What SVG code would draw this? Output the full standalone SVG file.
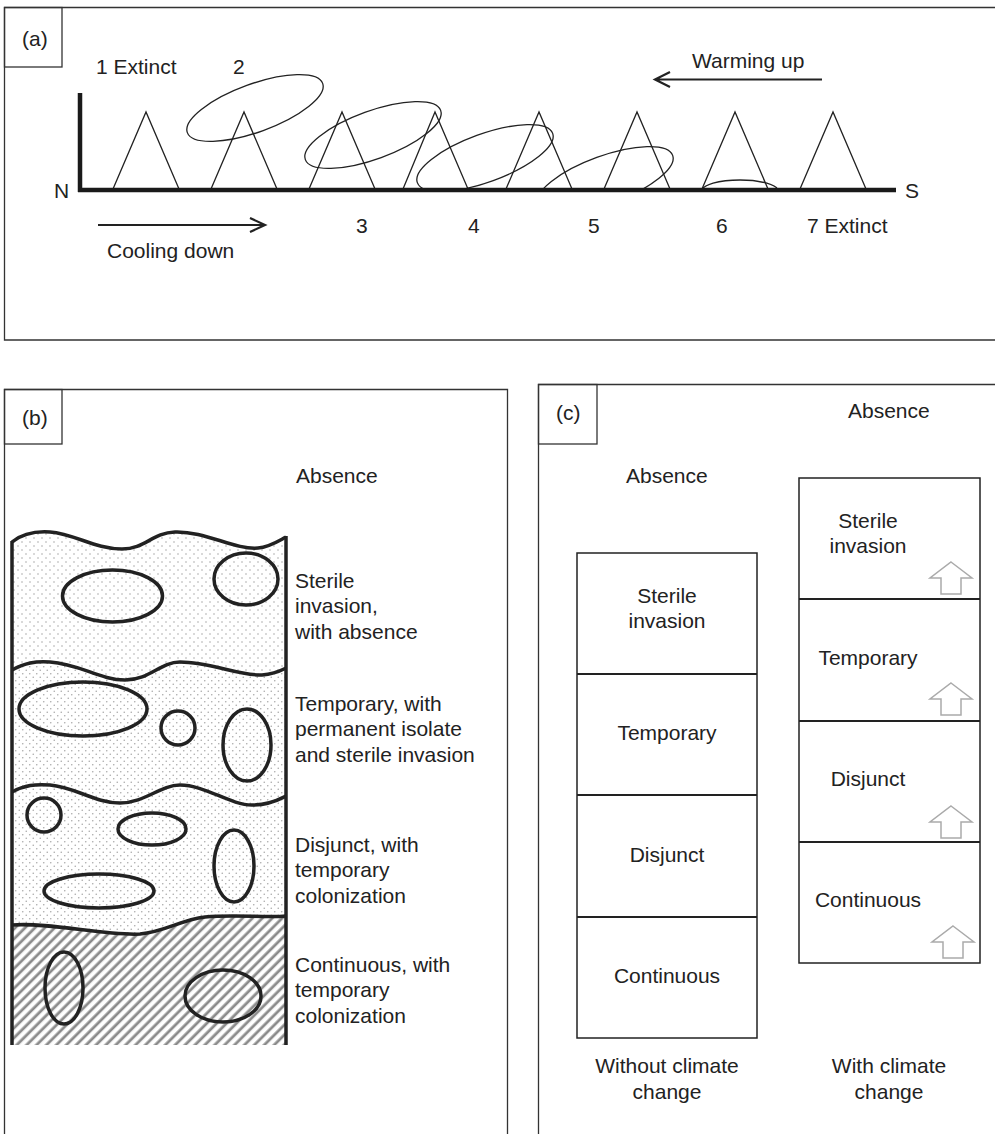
<svg xmlns="http://www.w3.org/2000/svg" width="995" height="1134" viewBox="0 0 995 1134">
<style>
text{font-family:"Liberation Sans",Arial,sans-serif;font-size:21px;fill:#222}
.frame{fill:none;stroke:#333;stroke-width:1.3}
.thin{fill:none;stroke:#222;stroke-width:1.3}
.axis{stroke:#1a1a1a;stroke-width:4.5;fill:none}
.arr{fill:none;stroke:#222;stroke-width:2.2}
.wave{fill:none;stroke:#222;stroke-width:3.5}
.bl{stroke:#222;stroke-width:3.5;fill:none}
.box{fill:#fff;stroke:#222;stroke-width:1.5}
.div{stroke:#222;stroke-width:2}
.up{fill:#fff;stroke:#aaa;stroke-width:1.5}
.mid{text-anchor:middle}
</style>
<defs>
<pattern id="dotsA" width="8" height="8" patternUnits="userSpaceOnUse">
<rect width="8" height="8" fill="#fff"/>
<circle cx="2" cy="2" r="0.8" fill="#aaa"/>
<circle cx="6" cy="6" r="0.8" fill="#aaa"/>
</pattern>
<pattern id="dotsB" width="7" height="7" patternUnits="userSpaceOnUse">
<rect width="7" height="7" fill="#fff"/>
<circle cx="1.75" cy="1.75" r="0.8" fill="#aaa"/>
<circle cx="5.25" cy="5.25" r="0.8" fill="#aaa"/>
</pattern>
<pattern id="hatch" width="7" height="7" patternUnits="userSpaceOnUse" patternTransform="rotate(45)">
<rect width="7" height="7" fill="#fff"/>
<line x1="1.8" y1="0" x2="1.8" y2="7" stroke="#8a8a8a" stroke-width="2.8"/>
</pattern>
<clipPath id="above"><rect x="0" y="0" width="995" height="189"/></clipPath>
<polygon id="uparrow" points="0,0 21,16 10,16 10,32 -10,32 -10,16 -21,16"/>
</defs>

<!-- Panel (a) -->
<g id="panel-a">
<path class="frame" d="M1000,7.5 H4.5 V340 H1000"/>
<rect class="frame" x="4.5" y="7.5" width="57.5" height="59.5"/>
<text x="22" y="46">(a)</text>
<text x="96" y="74">1 Extinct</text>
<text x="233" y="74">2</text>
<text x="54" y="198">N</text>
<text x="905" y="198">S</text>
<text x="356" y="233">3</text>
<text x="468" y="233">4</text>
<text x="588" y="233">5</text>
<text x="716" y="233">6</text>
<text x="807" y="233">7 Extinct</text>
<text x="107" y="258">Cooling down</text>
<text x="692" y="68">Warming up</text>
</g>
<g id="triangles">
<path class="thin" d="M113,189 L146,112 L179,189"/>
<path class="thin" d="M211,189 L244,112 L277,189"/>
<path class="thin" d="M309,189 L342,112 L375,189"/>
<path class="thin" d="M403,189 L435,112 L468,189"/>
<path class="thin" d="M506,189 L539,112 L572,189"/>
<path class="thin" d="M604,189 L637,112 L670,189"/>
<path class="thin" d="M702,189 L735,112 L768,189"/>
<path class="thin" d="M800,189 L833,112 L866,189"/>
</g>
<g id="ranges" clip-path="url(#above)">
<ellipse class="thin" cx="255" cy="108" rx="72" ry="24" transform="rotate(-20 255 108)"/>
<ellipse class="thin" cx="373" cy="135" rx="72" ry="24" transform="rotate(-20 373 135)"/>
<ellipse class="thin" cx="485" cy="158" rx="72" ry="24" transform="rotate(-20 485 158)"/>
<ellipse class="thin" cx="605" cy="180" rx="72" ry="24" transform="rotate(-20 605 180)"/>
<ellipse class="thin" cx="740" cy="191" rx="38" ry="11"/>
</g>
<g id="connectors">
<path class="axis" d="M80,93 V192 M78,190 H896"/>
<path class="arr" d="M98,225 H264 M250,218 L265,225 L250,232"/>
<path class="arr" d="M822,79.5 H656 M670,72 L655,79.5 L670,87"/>
</g>

<!-- Panel (b) -->
<g id="panel-b">
<path class="frame" d="M4.5,1134 V389.5 H507.5 V1134"/>
<rect class="frame" x="4.5" y="389.5" width="57.5" height="54.5"/>
<text x="22" y="425">(b)</text>
<text x="296" y="483">Absence</text>
<text x="295" y="588">Sterile</text>
<text x="295" y="613">invasion,</text>
<text x="295" y="639">with absence</text>
<text x="295" y="711">Temporary, with</text>
<text x="295" y="736">permanent isolate</text>
<text x="295" y="762">and sterile invasion</text>
<text x="295" y="852">Disjunct, with</text>
<text x="295" y="877">temporary</text>
<text x="295" y="903">colonization</text>
<text x="295" y="972">Continuous, with</text>
<text x="295" y="997">temporary</text>
<text x="295" y="1023">colonization</text>
</g>
<g id="column">
<path fill="url(#dotsA)" d="M12,542 C22,534 35,531 50,532 C75,534 95,549 122,549 C145,549 152,533 175,532 C205,531 235,550 258,548 C270,547 280,540 286,537 L286,1045 L12,1045 Z"/>
<path fill="url(#dotsB)" d="M12,670 C25,663 35,661 50,662 C80,664 100,680 125,680 C150,680 160,662 180,662 C210,662 240,676 262,675 C275,674 282,670 286,668 L286,1045 L12,1045 Z"/>
<path fill="url(#dotsB)" d="M12,792 C25,785 35,784 50,785 C75,787 95,803 120,803 C145,803 160,785 180,785 C205,785 230,805 252,805 C270,805 280,799 286,796 L286,1045 L12,1045 Z"/>
<path fill="url(#hatch)" d="M12,925 C50,922 105,936 140,934 C165,932 180,920 205,917 C235,914 265,918 286,916 L286,1045 L12,1045 Z"/>

<ellipse class="bl" fill="#fff" cx="112.5" cy="596" rx="50" ry="26"/>
<ellipse class="bl" fill="#fff" cx="246" cy="579" rx="32" ry="26"/>
<ellipse class="bl" fill="url(#dotsB)" cx="83" cy="709" rx="64" ry="27"/>
<circle class="bl" fill="url(#hatch)" cx="178" cy="728" r="17"/>
<ellipse class="bl" fill="url(#dotsB)" cx="247" cy="745" rx="24" ry="36"/>
<circle class="bl" fill="url(#hatch)" cx="44" cy="815" r="17"/>
<ellipse class="bl" fill="url(#hatch)" cx="152" cy="829" rx="34" ry="16"/>
<ellipse class="bl" fill="url(#hatch)" cx="234" cy="866" rx="20" ry="36"/>
<ellipse class="bl" fill="url(#hatch)" cx="99" cy="891" rx="55" ry="17"/>
<ellipse class="bl" fill="url(#dotsB)" cx="64" cy="988" rx="19" ry="36"/>
<ellipse class="bl" fill="url(#dotsB)" cx="223" cy="996" rx="38" ry="26"/>

<path class="wave" d="M12,542 C22,534 35,531 50,532 C75,534 95,549 122,549 C145,549 152,533 175,532 C205,531 235,550 258,548 C270,547 280,540 286,537"/>
<path class="wave" d="M12,670 C25,663 35,661 50,662 C80,664 100,680 125,680 C150,680 160,662 180,662 C210,662 240,676 262,675 C275,674 282,670 286,668"/>
<path class="wave" d="M12,792 C25,785 35,784 50,785 C75,787 95,803 120,803 C145,803 160,785 180,785 C205,785 230,805 252,805 C270,805 280,799 286,796"/>
<path class="wave" d="M12,925 C50,922 105,936 140,934 C165,932 180,920 205,917 C235,914 265,918 286,916"/>
<path class="bl" d="M12,541 V1045 M286,536 V1045"/>
</g>

<!-- Panel (c) -->
<g id="panel-c">
<path class="frame" d="M538.5,1134 V384.5 H1000"/>
<rect class="frame" x="538.5" y="384.5" width="58.5" height="59.5"/>
<text x="556" y="420">(c)</text>
<text x="848" y="418">Absence</text>
<text x="626" y="483">Absence</text>
<text class="mid" x="667" y="1073">Without climate</text>
<text class="mid" x="667" y="1099">change</text>
<text class="mid" x="889" y="1073">With climate</text>
<text class="mid" x="889" y="1099">change</text>
</g>
<g id="without-climate-change">
<rect class="box" x="577" y="553" width="180" height="485"/>
<path class="div" d="M577,674 H757 M577,795 H757 M577,917 H757"/>
<text class="mid" x="667" y="603">Sterile</text>
<text class="mid" x="667" y="628">invasion</text>
<text class="mid" x="667" y="740">Temporary</text>
<text class="mid" x="667" y="862">Disjunct</text>
<text class="mid" x="667" y="983">Continuous</text>
</g>
<g id="with-climate-change">
<rect class="box" x="799" y="478" width="181" height="485"/>
<path class="div" d="M799,599 H980 M799,721 H980 M799,842 H980"/>
<text class="mid" x="868" y="528">Sterile</text>
<text class="mid" x="868" y="553">invasion</text>
<text class="mid" x="868" y="665">Temporary</text>
<text class="mid" x="868" y="786">Disjunct</text>
<text class="mid" x="868" y="907">Continuous</text>
<use href="#uparrow" class="up" x="951" y="562"/>
<use href="#uparrow" class="up" x="951" y="683"/>
<use href="#uparrow" class="up" x="951" y="806"/>
<use href="#uparrow" class="up" x="953" y="926"/>
</g>
</svg>
